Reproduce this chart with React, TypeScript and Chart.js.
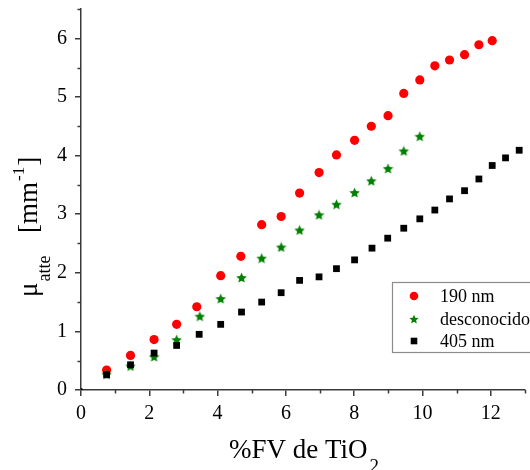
import React, { useEffect, useRef } from 'react';
import { Chart, registerables } from 'chart.js';
Chart.register(...registerables);

const FONT = "'Liberation Serif', 'Times New Roman', serif";

const xRed = [0.75, 1.45, 2.14, 2.8, 3.39, 4.09, 4.68, 5.29, 5.86, 6.4, 6.97, 7.48, 8.01, 8.5, 8.99, 9.45, 9.92, 10.36, 10.79, 11.23, 11.65, 12.04];
const yRed = [0.34, 0.59, 0.86, 1.12, 1.42, 1.95, 2.28, 2.82, 2.96, 3.36, 3.71, 4.01, 4.26, 4.5, 4.68, 5.06, 5.29, 5.53, 5.63, 5.72, 5.89, 5.96];

const xGreen = [0.75, 1.45, 2.14, 2.8, 3.48, 4.09, 4.7, 5.29, 5.86, 6.4, 6.97, 7.48, 8.01, 8.5, 8.99, 9.45, 9.92];
const yGreen = [0.27, 0.41, 0.57, 0.86, 1.26, 1.56, 1.92, 2.25, 2.44, 2.73, 2.99, 3.17, 3.37, 3.57, 3.78, 4.08, 4.33];

const xBlack = [0.75, 1.45, 2.14, 2.8, 3.46, 4.09, 4.7, 5.29, 5.86, 6.4, 6.97, 7.48, 8.01, 8.52, 8.98, 9.45, 9.92, 10.36, 10.79, 11.23, 11.65, 12.04, 12.43, 12.83];
const yBlack = [0.26, 0.43, 0.63, 0.76, 0.95, 1.12, 1.33, 1.5, 1.66, 1.87, 1.93, 2.07, 2.22, 2.42, 2.59, 2.76, 2.92, 3.07, 3.26, 3.4, 3.6, 3.83, 3.96, 4.09];

const xOrigin = [0];
const yOrigin = [0];

const seriesLabels = ['190 nm', 'desconocido', '405 nm'];
const seriesColors = ['#ff0000', '#008000', '#000000'];

const X_MIN = 0, X_MAX = 13, X_STEP = 2;
const Y_MIN = 0, Y_MAX = 6.5, Y_STEP = 1;

const AXIS_COLOR = '#3a3a3a';

function toPts(xs: number[], ys: number[]) {
  return xs.map((x, i) => ({ x, y: ys[i] }));
}

function starPath(ctx: CanvasRenderingContext2D, cx: number, cy: number, R: number, r: number) {
  ctx.beginPath();
  for (let i = 0; i < 10; i++) {
    const rad = i % 2 === 0 ? R : r;
    const a = -Math.PI / 2 + (i * Math.PI) / 5;
    const px = cx + rad * Math.cos(a);
    const py = cy + rad * Math.sin(a);
    if (i === 0) ctx.moveTo(px, py);
    else ctx.lineTo(px, py);
  }
  ctx.closePath();
}

function makeStar(size: number, color: string) {
  const c = document.createElement('canvas');
  c.width = size;
  c.height = size;
  const ctx = c.getContext('2d')!;
  ctx.fillStyle = color;
  starPath(ctx, size / 2, size / 2 + 0.6, size / 2, size / 4.3);
  ctx.fill();
  return c;
}

const decorPlugin = {
  id: 'decor',
  afterDraw(chart: any) {
    const ctx: CanvasRenderingContext2D = chart.ctx;
    const xs = chart.scales.x;
    const ys = chart.scales.y;
    const area = chart.chartArea;
    ctx.save();
    // minor ticks
    ctx.strokeStyle = AXIS_COLOR;
    ctx.lineWidth = 1.5;
    for (let v = Y_MIN + Y_STEP / 2; v <= Y_MAX + 1e-9; v += Y_STEP) {
      const py = Math.round(ys.getPixelForValue(v)) + 0.5;
      ctx.beginPath();
      ctx.moveTo(area.left - 3.5, py);
      ctx.lineTo(area.left, py);
      ctx.stroke();
    }
    for (let v = X_MIN + X_STEP / 2; v <= X_MAX + 1e-9; v += X_STEP) {
      const px = Math.round(xs.getPixelForValue(v)) + 0.5;
      ctx.beginPath();
      ctx.moveTo(px, area.bottom);
      ctx.lineTo(px, area.bottom + 3.5);
      ctx.stroke();
    }

    // x title with subscript
    ctx.fillStyle = '#000';
    ctx.textBaseline = 'alphabetic';
    ctx.textAlign = 'left';
    ctx.font = `27px ${FONT}`;
    const main = '%FV de TiO';
    const mw = ctx.measureText(main).width;
    ctx.font = `19px ${FONT}`;
    const sw = ctx.measureText('2').width;
    const cx = (area.left + area.right) / 2 + 1;
    const startX = cx - (mw + sw + 2) / 2;
    ctx.font = `27px ${FONT}`;
    ctx.fillText(main, startX, 458);
    ctx.font = `19px ${FONT}`;
    ctx.fillText('2', startX + mw + 2, 472);

    // y title rotated
    ctx.save();
    ctx.translate(37, 297);
    ctx.rotate(-Math.PI / 2);
    ctx.font = `27px ${FONT}`;
    ctx.fillText('\u03bc', 0, 0);
    const muW = ctx.measureText('\u03bc').width;
    ctx.font = `18px ${FONT}`;
    ctx.fillText('atte', muW + 1, 13);
    ctx.font = `27px ${FONT}`;
    ctx.fillText('[mm', 64, 0);
    const mmW = ctx.measureText('[mm').width;
    ctx.font = `17px ${FONT}`;
    ctx.fillText('-1', 64 + mmW + 1, -13);
    const supW = ctx.measureText('-1').width;
    ctx.font = `27px ${FONT}`;
    ctx.fillText(']', 64 + mmW + supW + 2, 0);
    ctx.restore();

    // legend
    const lx = 392.5, ly = 282.5, lw = 150, lh = 70;
    ctx.fillStyle = '#ffffff';
    ctx.fillRect(lx, ly, lw, lh);
    ctx.strokeStyle = '#8c8c8c';
    ctx.lineWidth = 1.2;
    ctx.strokeRect(lx, ly, lw, lh);
    const rows = [296, 319, 341];
    const mx = 414;
    ctx.fillStyle = seriesColors[0];
    ctx.beginPath();
    ctx.arc(mx, rows[0], 4.3, 0, Math.PI * 2);
    ctx.fill();
    ctx.fillStyle = seriesColors[1];
    starPath(ctx, mx, rows[1] + 0.5, 4.8, 2.2);
    ctx.fill();
    ctx.fillStyle = seriesColors[2];
    ctx.fillRect(mx - 3.3, rows[2] - 3.3, 6.6, 6.6);
    ctx.fillStyle = '#000';
    ctx.font = `18px ${FONT}`;
    ctx.textBaseline = 'middle';
    seriesLabels.forEach((t, i) => ctx.fillText(t, 440, rows[i] + 1));
    ctx.restore();
  },
};

export default function App() {
  const ref = useRef<HTMLCanvasElement>(null);
  useEffect(() => {
    if (!ref.current) return;
    const star = makeStar(11, seriesColors[1]);
    const chart = new Chart(ref.current, {
      type: 'scatter',
      data: {
        datasets: [
          {
            label: seriesLabels[0],
            data: toPts(xRed, yRed),
            pointStyle: 'circle',
            pointRadius: 4.6,
            backgroundColor: seriesColors[0],
            borderColor: seriesColors[0],
            borderWidth: 0,
            order: 2,
          },
          {
            label: seriesLabels[1],
            data: toPts(xGreen, yGreen),
            pointStyle: star as any,
            pointRadius: 5,
            backgroundColor: seriesColors[1],
            borderColor: seriesColors[1],
            borderWidth: 0,
            order: 1,
          },
          {
            label: seriesLabels[2],
            data: toPts(xBlack, yBlack),
            pointStyle: 'rect',
            pointRadius: 4.8,
            backgroundColor: seriesColors[2],
            borderColor: seriesColors[2],
            borderWidth: 0,
            order: 0,
          },
          {
            label: 'origin',
            data: toPts(xOrigin, yOrigin),
            pointStyle: 'circle',
            pointRadius: 2,
            backgroundColor: '#000',
            borderWidth: 0,
            order: 0,
          },
        ],
      },
      options: {
        responsive: false,
        animation: false,
        layout: { padding: { top: 9, right: 2, left: 0, bottom: 0 } },
        plugins: {
          legend: { display: false },
          tooltip: { enabled: false },
          title: { display: false },
        },
        scales: {
          x: {
            type: 'linear',
            min: X_MIN,
            max: X_MAX,
            border: { display: true, color: AXIS_COLOR, width: 1.5 },
            grid: { display: true, drawOnChartArea: false, drawTicks: true, tickLength: 6, color: AXIS_COLOR, lineWidth: 1.5 },
            ticks: {
              stepSize: X_STEP,
              includeBounds: false,
              color: '#000',
              padding: 6,
              maxRotation: 0,
              font: { family: FONT, size: 20 },
            },
            afterFit: (s: any) => {
              s.height = 80;
              s.paddingLeft = 0;
              s.paddingRight = 0;
            },
          },
          y: {
            type: 'linear',
            min: Y_MIN,
            max: Y_MAX,
            border: { display: true, color: AXIS_COLOR, width: 1.5 },
            grid: { display: true, drawOnChartArea: false, drawTicks: true, tickLength: 6, color: AXIS_COLOR, lineWidth: 1.5 },
            ticks: {
              stepSize: Y_STEP,
              includeBounds: false,
              color: '#000',
              padding: 8,
              font: { family: FONT, size: 20 },
            },
            afterFit: (s: any) => {
              s.width = 81;
              s.paddingTop = 0;
              s.paddingBottom = 0;
            },
          },
        },
      },
      plugins: [decorPlugin],
    } as any);
    return () => chart.destroy();
  }, []);
  return (
    <div style={{ position: 'fixed', left: 0, top: 0, width: 530, height: 470, background: '#fff' }}>
      <canvas ref={ref} width={530} height={470} style={{ display: 'block' }} />
    </div>
  );
}
